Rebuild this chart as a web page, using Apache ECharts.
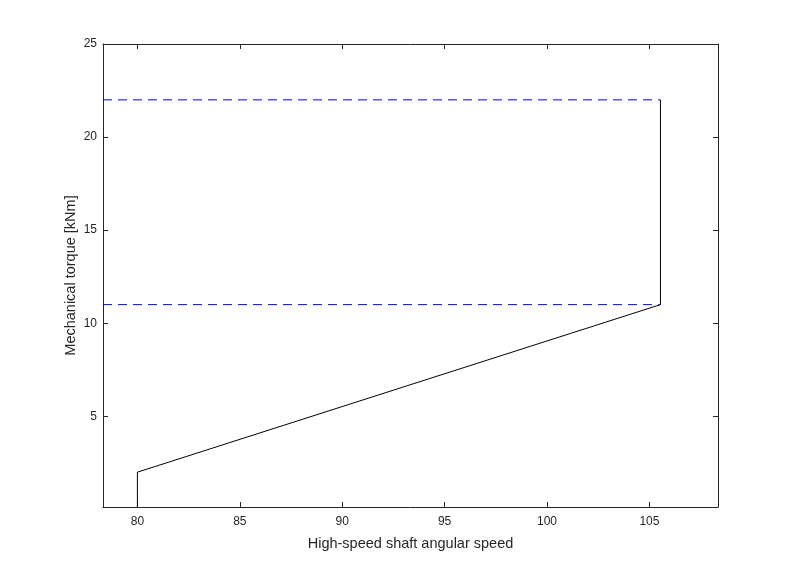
<!DOCTYPE html>
<html>
<head>
<meta charset="utf-8">
<script src="https://cdn.jsdelivr.net/npm/echarts@6/dist/echarts.min.js"></script>
<style>html,body{margin:0;padding:0;background:#fff}#c{width:794px;height:571px}</style>
</head>
<body>
<div id="c"></div>
<script>
const xTicks = [80, 85, 90, 95, 100, 105];
const yTicks = [5, 10, 15, 20, 25];
const torqueX = [80, 80, 105.54, 105.54];
const torqueY = [0, 2, 11, 22];
const limitLevels = [11, 22];
const xRange = [78.32, 108.35];
const yRange = [0.13, 25];

const axisColor = '#262626';
const font = 'Liberation Sans, Arial, sans-serif';

function mkX(pos, show) {
  return {
    type: 'value', position: pos, min: xRange[0], max: xRange[1],
    axisLine: { show: true, onZero: false, lineStyle: { color: axisColor, width: 1 } },
    axisTick: { show: true, inside: true, length: 5, customValues: xTicks, lineStyle: { color: axisColor } },
    axisLabel: { show: show, customValues: xTicks, color: axisColor, fontSize: 12, fontFamily: font, margin: 9 },
    splitLine: { show: false },
    name: show ? 'High-speed shaft angular speed' : '',
    nameLocation: 'middle', nameGap: 29, nameMoveOverlap: false,
    nameTextStyle: { color: axisColor, fontSize: 14.5, fontFamily: font }
  };
}
function mkY(pos, show) {
  return {
    type: 'value', position: pos, min: yRange[0], max: yRange[1],
    axisLine: { show: true, onZero: false, lineStyle: { color: axisColor, width: 1 } },
    axisTick: { show: true, inside: true, length: 5, customValues: yTicks, lineStyle: { color: axisColor } },
    axisLabel: { show: show, customValues: yTicks, color: axisColor, fontSize: 12, fontFamily: font, margin: 6 },
    splitLine: { show: false },
    name: show ? 'Mechanical torque [kNm]' : '',
    nameLocation: 'middle', nameGap: 25, nameMoveOverlap: false,
    nameTextStyle: { color: axisColor, fontSize: 14.5, fontFamily: font }
  };
}

const series = [{
  type: 'line', xAxisIndex: 0, yAxisIndex: 0,
  data: torqueX.map((x, i) => [x, torqueY[i]]),
  showSymbol: false, symbol: 'none',
  lineStyle: { color: '#000', width: 1 }, animation: false, clip: true
}];
limitLevels.forEach(v => {
  series.push({
    type: 'line', xAxisIndex: 0, yAxisIndex: 0,
    data: [[xRange[0], v], [torqueX[torqueX.length - 1], v]],
    showSymbol: false, symbol: 'none',
    lineStyle: { color: '#0000ff', width: 1, type: [9, 6] }, animation: false
  });
});

const chart = echarts.init(document.getElementById('c'));
chart.setOption({
  backgroundColor: '#fff',
  animation: false,
  grid: { left: 103, right: 76, top: 44, bottom: 64, containLabel: false },
  xAxis: [mkX('bottom', true), mkX('top', false)],
  yAxis: [mkY('left', true), mkY('right', false)],
  series: series
});
</script>
</body>
</html>
